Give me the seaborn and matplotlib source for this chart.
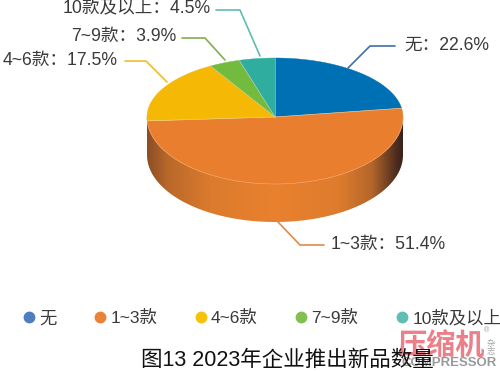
import numpy as np
import seaborn as sns
import matplotlib.pyplot as plt
from matplotlib.colors import LinearSegmentedColormap
from matplotlib.lines import Line2D
from matplotlib.patches import Polygon

categories = ["无", "1~3款", "4~6款", "7~9款", "10款及以上"]
shares = [22.6, 51.4, 17.5, 3.9, 4.5]
pie_colors = ["#0070b4", "#e97f2e", "#f5b905", "#72bb3f", "#2fae9f"]
legend_colors = ["#4f7dbd", "#ea8338", "#f8c10a", "#82c050", "#60bfb3"]
title = "图13 2023年企业推出新品数量"

sns.set_theme(style="white")
plt.rcParams["font.family"] = ["Liberation Sans", "Noto Sans CJK SC", "DejaVu Sans"]

# 饼图的几何参数（像素坐标）
CX, CY = 275, 117
RX, RY_TOP, RY_BOTTOM = 128, 59, 67
DEPTH = 38


def rim(angle):
    # 角度从正上方顺时针计，下半部分椭圆更扁平一些以模拟透视
    ry = np.where(np.cos(angle) >= 0, RY_TOP, RY_BOTTOM)
    return CX + RX * np.sin(angle), CY - ry * np.cos(angle)


fig, ax = plt.subplots(figsize=(5, 3.71), dpi=100)
fig.subplots_adjust(0, 0, 1, 1)
ax.set_xlim(0, 500)
ax.set_ylim(371, 0)
ax.axis("off")

# 侧面：下半圆弧加厚度，用渐变填充
t = np.linspace(np.pi / 2, 3 * np.pi / 2, 200)
xs, ys = rim(t)
side_pts = np.vstack([np.c_[xs, ys], np.c_[xs[::-1], ys[::-1] + DEPTH]])
side = Polygon(side_pts, closed=True, transform=ax.transData, fc="none", ec="none")
ax.add_patch(side)
cmap = LinearSegmentedColormap.from_list(
    "side",
    [(0, "#8a4e25"), (0.08, "#b9682a"), (0.25, "#dc7b2d"), (0.5, "#e9812f"),
     (0.75, "#de7c2d"), (0.88, "#b4662b"), (0.97, "#54301f"), (1, "#38221c")],
)
img = ax.imshow(np.linspace(0, 1, 256)[None, :], cmap=cmap, aspect="auto",
                extent=[CX - RX, CX + RX, CY + RY_BOTTOM + DEPTH, CY - 5], zorder=2)
img.set_clip_path(side)
ax.set_xlim(0, 500)
ax.set_ylim(371, 0)

# 顶面扇区
edges = np.cumsum([0] + shares) / sum(shares) * 2 * np.pi
for i, color in enumerate(pie_colors):
    t = np.linspace(edges[i], edges[i + 1], 120)
    xs, ys = rim(t)
    pts = np.vstack([[CX, CY], np.c_[xs, ys]])
    ax.add_patch(Polygon(pts, closed=True, fc=color, ec=color, lw=0.3, zorder=3))
    ax.plot([CX, xs[0]], [CY, ys[0]], color="#f3d9b0", lw=0.5, alpha=0.7, zorder=4)

# 下沿高光
t = np.linspace(np.pi / 2, 3 * np.pi / 2, 200)
xs, ys = rim(t)
ax.plot(xs, ys, color="#f0a064", lw=0.5, zorder=4)

# 引导线和数据标签
leaders = [
    ([348, 370, 395], [68, 46, 46], 404, 45, "left"),
    ([278, 300, 324], [222, 245, 245], 331, 244, "left"),
    ([167, 146, 125], [82, 61, 61], 118, 60, "right"),
    ([225, 205, 182], [60, 38, 38], 176, 36, "right"),
    ([260, 240, 216], [56, 10, 10], 211, 9, "right"),
]
line_colors = ["#3f6fa8", "#e08a4a", "#f0bd2c", "#7fb04e", "#5fbcb0"]
for name, val, color, (lx, ly, tx, ty, ha) in zip(categories, shares, line_colors, leaders):
    ax.plot(lx, ly, color=color, lw=1.2, zorder=5)
    ax.text(tx, ty, f"{name}：{val}%", ha=ha, va="center", fontsize=12.7, color="#3a3a3a")

# 图例
handles = [Line2D([], [], ls="", marker="o", ms=7.5, color=c) for c in legend_colors]
ax.legend(handles, categories, ncol=5, loc="center left", bbox_to_anchor=(0.04, 0.143),
          frameon=False, fontsize=12.5, labelcolor="#3a3a3a", handletextpad=0.1,
          columnspacing=2.0, handlelength=1.0, borderpad=0, borderaxespad=0)

# 杂志水印
ax.text(441, 346, "压缩机", ha="center", va="center", fontsize=21, fontweight="bold",
        color="#ec7f88")
ax.text(449, 363, "COMPRESSOR", ha="center", va="center", fontsize=9.5, fontweight="bold",
        color="#9a9a9a")
ax.text(487, 331, "®", ha="center", va="center", fontsize=5, color="#999999")
ax.text(491, 348, "杂\n志", ha="center", va="center", fontsize=6, linespacing=1.0,
        color="#a5a5a5")

ax.text(287, 360, title, ha="center", va="center", fontsize=15.5, color="#111111")

plt.savefig("out.png", dpi=100)
plt.close()
